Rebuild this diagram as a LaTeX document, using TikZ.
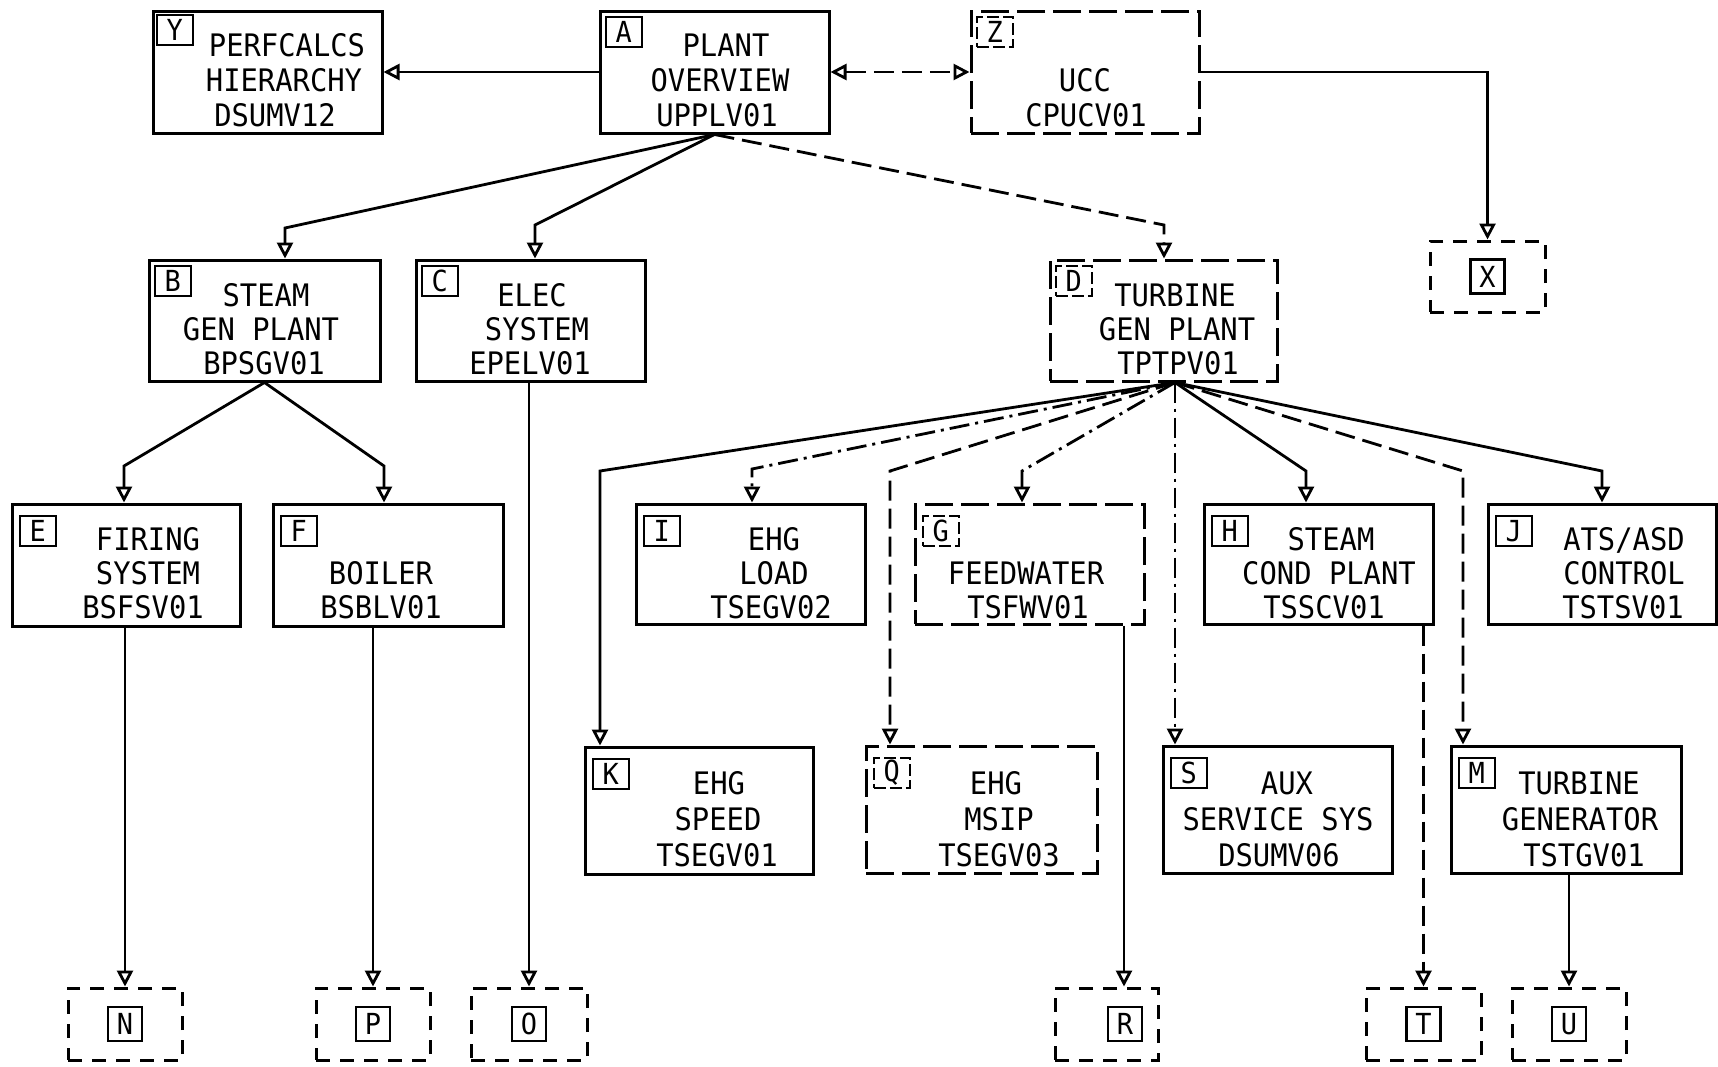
\documentclass[tikz,border=0pt]{standalone}
\usepackage{fontspec}
\newfontfamily\plotfont[FakeStretch=0.93]{DejaVu Sans Mono}
\usetikzlibrary{arrows.meta,fit}
\begin{document}
\begin{tikzpicture}[x=0.5pt,y=-0.5pt,
 box/.style={draw, line width=1.5pt, inner sep=0pt},
 dbox/.style={box, dash pattern=on 14pt off 4pt},
 ebox/.style={box, dash pattern=on 7pt off 5pt},
 txt/.style={font=\plotfont\fontsize{15.5}{17}\selectfont, inner sep=0pt, anchor=base},
 lbl/.style={draw, line width=1.3pt, font=\plotfont\fontsize{14.5}{14}\selectfont, minimum width=18pt, minimum height=15pt, inner sep=0pt, anchor=north west},
 dlbl/.style={lbl, dash pattern=on 6pt off 2pt},
 blbl/.style={lbl, minimum width=17pt, minimum height=17pt, anchor=center},
 conn/.style={line width=1.4pt, -{Triangle[open,length=8pt,width=8pt]}},
 ldash/.style={dash pattern=on 10pt off 4pt},
 ddot/.style={dash pattern=on 10pt off 3pt on 1.5pt off 3pt},
]
\fill[white] (0,0) rectangle (1718,1066);
\useasboundingbox (0,0) rectangle (1718,1066);

% ---- row 1
\node[box, fit={(153,11) (382,133)}] (Y) {};
\node[lbl] (Yl) at ([shift={(4,4)}]Y.north west) {Y};
\node[txt] (Y1) at (287,56) {PERFCALCS};
\node[txt] (Y2) at (284,91) {HIERARCHY};
\node[txt] (Y3) at (275,126) {DSUMV12};

\node[box, fit={(600,11) (829,133)}] (A) {};
\node[lbl] (Al) at ([shift={(6,6)}]A.north west) {A};
\node[txt] (A1) at (726,56) {PLANT};
\node[txt] (A2) at (720,91) {OVERVIEW};
\node[txt] (A3) at (717,126) {UPPLV01};

\node[dbox, fit={(971,11) (1199,133)}] (Z) {};
\node[dlbl] (Zl) at ([shift={(6,6)}]Z.north west) {Z};
\node[txt] (Z2) at (1085,91) {UCC};
\node[txt] (Z3) at (1086,126) {CPUCV01};

\node[ebox, fit={(1430,241) (1545,312)}] (X) {};
\node[blbl] (Xl) at (X.center) {X};

% ---- row 2
\node[box, fit={(149,260) (380,381)}] (B) {};
\node[lbl] (Bl) at ([shift={(6,6)}]B.north west) {B};
\node[txt] (B1) at (266,306) {STEAM};
\node[txt] (B2) at (261,340) {GEN PLANT};
\node[txt] (B3) at (264,374) {BPSGV01};

\node[box, fit={(416,260) (645,381)}] (C) {};
\node[lbl] (Cl) at ([shift={(6,6)}]C.north west) {C};
\node[txt] (C1) at (532,306) {ELEC};
\node[txt] (C2) at (537,340) {SYSTEM};
\node[txt] (C3) at (530,374) {EPELV01};

\node[dbox, fit={(1050,260) (1277,381)}] (D) {};
\node[dlbl] (Dl) at ([shift={(6,6)}]D.north west) {D};
\node[txt] (D1) at (1175,306) {TURBINE};
\node[txt] (D2) at (1177,340) {GEN PLANT};
\node[txt] (D3) at (1178,374) {TPTPV01};

% ---- row 3
\node[box, fit={(12,504) (240,626)}] (E) {};
\node[lbl] (El) at ([shift={(8,12)}]E.north west) {E};
\node[txt] (E1) at (148,550) {FIRING};
\node[txt] (E2) at (148,584) {SYSTEM};
\node[txt] (E3) at (143,618) {BSFSV01};

\node[box, fit={(273,504) (503,626)}] (F) {};
\node[lbl] (Fl) at ([shift={(8,12)}]F.north west) {F};
\node[txt] (F2) at (381,584) {BOILER};
\node[txt] (F3) at (381,618) {BSBLV01};

\node[box, fit={(636,504) (865,624)}] (I) {};
\node[lbl] (Il) at ([shift={(8,12)}]I.north west) {I};
\node[txt] (I1) at (774,550) {EHG};
\node[txt] (I2) at (774,584) {LOAD};
\node[txt] (I3) at (771,618) {TSEGV02};

\node[dbox, fit={(915,504) (1144,624)}] (G) {};
\node[dlbl] (Gl) at ([shift={(8,12)}]G.north west) {G};
\node[txt] (G2) at (1026,584) {FEEDWATER};
\node[txt] (G3) at (1028,618) {TSFWV01};

\node[box, fit={(1204,504) (1433,624)}] (H) {};
\node[lbl] (Hl) at ([shift={(8,12)}]H.north west) {H};
\node[txt] (H1) at (1331,550) {STEAM};
\node[txt] (H2) at (1329,584) {COND PLANT};
\node[txt] (H3) at (1324,618) {TSSCV01};

\node[box, fit={(1488,504) (1716,624)}] (J) {};
\node[lbl] (Jl) at ([shift={(8,12)}]J.north west) {J};
\node[txt] (J1) at (1624,550) {ATS/ASD};
\node[txt] (J2) at (1624,584) {CONTROL};
\node[txt] (J3) at (1623,618) {TSTSV01};

% ---- row 4
\node[box, fit={(585,747) (813,874)}] (K) {};
\node[lbl] (Kl) at ([shift={(8,12)}]K.north west) {K};
\node[txt] (K1) at (719,794) {EHG};
\node[txt] (K2) at (718,830) {SPEED};
\node[txt] (K3) at (717,866) {TSEGV01};

\node[dbox, fit={(866,746) (1097,873)}] (Q) {};
\node[dlbl] (Ql) at ([shift={(8,12)}]Q.north west) {Q};
\node[txt] (Q1) at (996,794) {EHG};
\node[txt] (Q2) at (999,830) {MSIP};
\node[txt] (Q3) at (999,866) {TSEGV03};

\node[box, fit={(1163,746) (1392,873)}] (S) {};
\node[lbl] (Sl) at ([shift={(8,12)}]S.north west) {S};
\node[txt] (S1) at (1287,794) {AUX};
\node[txt] (S2) at (1278,830) {SERVICE SYS};
\node[txt] (S3) at (1279,866) {DSUMV06};

\node[box, fit={(1451,746) (1681,873)}] (M) {};
\node[lbl] (Ml) at ([shift={(8,12)}]M.north west) {M};
\node[txt] (M1) at (1579,794) {TURBINE};
\node[txt] (M2) at (1580,830) {GENERATOR};
\node[txt] (M3) at (1584,866) {TSTGV01};

% ---- bottom row
\node[ebox, fit={(68,988) (182,1060)}] (N) {};
\node[blbl] (Nl) at (N.center) {N};
\node[ebox, fit={(316,988) (430,1060)}] (P) {};
\node[blbl] (Pl) at (P.center) {P};
\node[ebox, fit={(471,988) (587,1060)}] (O) {};
\node[blbl] (Ol) at (O.center) {O};
\node[ebox, fit={(1055,988) (1158,1060)}] (R) {};
\node[blbl] (Rl) at (1125,1024) {R};
\node[ebox, fit={(1366,988) (1481,1060)}] (T) {};
\node[blbl] (Tl) at (T.center) {T};
\node[ebox, fit={(1512,988) (1626,1060)}] (U) {};
\node[blbl] (Ul) at (U.center) {U};

% ---- connectors
\draw[conn] (A.west) -- (Y.east);
\draw[conn, {Triangle[open,length=8pt,width=8pt]}-{Triangle[open,length=8pt,width=8pt]}, ldash] (A.east) -- (Z.west);
\draw[conn] (Z.east) -| (X.north);

\draw[conn] (A.south) -- (285,228) -- (285,0 |- B.north);
\draw[conn] (A.south) -- (535,225) -- (535,0 |- C.north);
\draw[conn, ldash] (A.south) -- (1164,225) -- (1164,0 |- D.north);

\draw[conn] (B.south) -- (124,466) -- (124,0 |- E.north);
\draw[conn] (B.south) -- (384,466) -- (384,0 |- F.north);

\draw[conn] (O.north |- C.south) -- (O.north);
\draw[conn] (N.north |- E.south) -- (N.north);
\draw[conn] (P.north |- F.south) -- (P.north);
\draw[conn] (1124,0 |- G.south) -- (1124,0 |- R.north);
\draw[conn, ldash] (T.north |- H.south) -- (T.north);
\draw[conn] (U.north |- M.south) -- (U.north);

\draw[conn] (1175,0 |- D.south) -- (600,471) -- (600,0 |- K.north);
\draw[conn, ddot] (1175,0 |- D.south) -- (752,469) -- (752,0 |- I.north);
\draw[conn, ldash] (1175,0 |- D.south) -- (890,471) -- (890,0 |- Q.north);
\draw[conn, ddot] (1175,0 |- D.south) -- (1022,471) -- (1022,0 |- G.north);
\draw[conn, ddot] (1175,0 |- D.south) -- (1175,0 |- S.north);
\draw[conn] (1175,0 |- D.south) -- (1306,471) -- (1306,0 |- H.north);
\draw[conn, ldash] (1175,0 |- D.south) -- (1463,471) -- (1463,0 |- M.north);
\draw[conn] (1175,0 |- D.south) -- (1602,471) -- (1602,0 |- J.north);
\end{tikzpicture}
\end{document}
